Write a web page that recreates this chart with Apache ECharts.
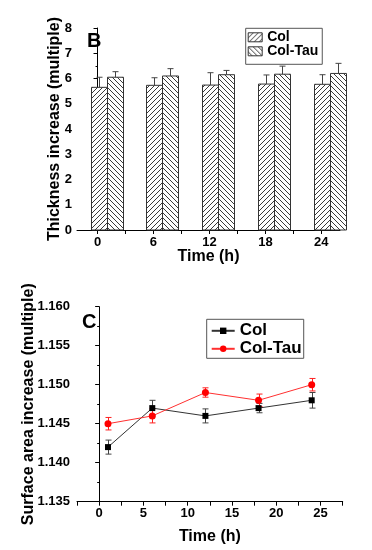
<!DOCTYPE html>
<html>
<head>
<meta charset="utf-8">
<script src="https://cdn.jsdelivr.net/npm/echarts@6/dist/echarts.min.js"></script>
<style>
html,body{margin:0;padding:0;background:#fff;}
#c{width:372px;height:550px;}
</style>
</head>
<body>
<div id="c"></div>
<script>
// ---- Panel B: thickness increase (bar chart) ----
const timesB = [0, 6, 12, 18, 24];
const thickCol = [5.65, 5.73, 5.74, 5.78, 5.77];
const thickColErr = [0.40, 0.30, 0.49, 0.36, 0.38];
const thickColTau = [6.05, 6.10, 6.15, 6.17, 6.20];
const thickColTauErr = [0.22, 0.29, 0.17, 0.32, 0.40];
const yTicksB = [0, 1, 2, 3, 4, 5, 6, 7, 8];

// ---- Panel C: surface area increase (line chart) ----
const timesC = [1, 6, 12, 18, 24];
const areaCol = [1.142, 1.147, 1.146, 1.147, 1.148];
const areaColErr = [0.0009, 0.001, 0.0009, 0.0006, 0.001];
const areaColTau = [1.145, 1.146, 1.149, 1.148, 1.150];
const areaColTauErr = [0.0008, 0.0009, 0.0006, 0.0008, 0.0008];
const xLabelsB = [0, 6, 12, 18, 24];
const xTicksB = [0, 3, 6, 9, 12, 15, 18, 21, 24];

const FONT = "'Liberation Sans', Arial, sans-serif";

function makeHatch(dir) {
  const N = 5;
  const c = document.createElement('canvas');
  c.width = N; c.height = N;
  const ctx = c.getContext('2d');
  ctx.fillStyle = '#fff';
  ctx.fillRect(0, 0, N, N);
  ctx.fillStyle = '#3a3a3a';
  for (let i = 0; i < N; i++) {
    const j = dir === '/' ? (N - 1 - i) : i;
    ctx.fillRect(i, j, 1, 1);
  }
  return c;
}
const patCol = { image: makeHatch('/'), repeat: 'repeat' };
const patColTau = { image: makeHatch('\\'), repeat: 'repeat' };

function barRender(off, pat) {
  return function (params, api) {
    const x = api.value(0), y = api.value(1), e = api.value(2);
    const top = api.coord([x, y]);
    const base = api.coord([x, 0]);
    const et = api.coord([x, y + e]);
    const cx = Math.round(top[0] + off) + 0.5;
    return {
      type: 'group',
      children: [
        { type: 'rect', shape: { x: cx - 8, y: top[1], width: 16, height: base[1] - top[1] },
          style: { fill: pat, stroke: '#333', lineWidth: 1 } },
        { type: 'line', shape: { x1: cx, y1: top[1], x2: cx, y2: et[1] },
          style: { stroke: '#444', lineWidth: 1 } },
        { type: 'line', shape: { x1: cx - 3, y1: et[1], x2: cx + 3, y2: et[1] },
          style: { stroke: '#444', lineWidth: 1 } }
      ]
    };
  };
}

function errRender(color) {
  return function (params, api) {
    const x = api.value(0), y = api.value(1), e = api.value(2);
    const hi = api.coord([x, y + e]);
    const lo = api.coord([x, y - e]);
    const cx = Math.round(hi[0]) + 0.5;
    return {
      type: 'group',
      children: [
        { type: 'line', shape: { x1: cx, y1: hi[1], x2: cx, y2: lo[1] }, style: { stroke: color, lineWidth: 1 } },
        { type: 'line', shape: { x1: cx - 3, y1: hi[1], x2: cx + 3, y2: hi[1] }, style: { stroke: color, lineWidth: 1 } },
        { type: 'line', shape: { x1: cx - 3, y1: lo[1], x2: cx + 3, y2: lo[1] }, style: { stroke: color, lineWidth: 1 } }
      ]
    };
  };
}

const rowsB = (vals, errs) => timesB.map((t, i) => [t, vals[i], errs[i]]);
const rowsC = (vals, errs) => timesC.map((t, i) => [t, vals[i], errs[i]]);

const axisLine = { show: true, lineStyle: { color: '#000', width: 1 } };
const labelStyle = { color: '#000', fontFamily: FONT, fontWeight: 'bold', fontSize: 13 };
const nameStyle = { color: '#000', fontFamily: FONT, fontWeight: 'bold', fontSize: 16 };

const chart = echarts.init(document.getElementById('c'), null, { renderer: 'canvas' });
chart.setOption({
  animation: false,
  backgroundColor: '#fff',
  grid: [
    { left: 77, top: 28, width: 263, height: 202 },
    { left: 77, top: 306.7, width: 265.7, height: 195 }
  ],
  xAxis: [
    {
      gridIndex: 0, type: 'value', min: -2.2, max: 26,
      name: 'Time (h)', nameLocation: 'middle', nameGap: 19, nameTextStyle: nameStyle, nameMoveOverlap: false,
      axisLine: axisLine,
      axisTick: { show: true, length: 4, customValues: xTicksB, lineStyle: { color: '#000' } },
      axisLabel: Object.assign({ margin: 6, customValues: xLabelsB }, labelStyle),
      splitLine: { show: false }
    },
    {
      gridIndex: 1, type: 'value', min: -2.5, max: 27.5, interval: 2.5,
      name: 'Time (h)', nameLocation: 'middle', nameGap: 27, nameTextStyle: nameStyle, nameMoveOverlap: false,
      axisLine: axisLine,
      axisTick: { show: true, length: 4, lineStyle: { color: '#000' } },
      axisLabel: Object.assign({ margin: 5, formatter: v => (Math.abs(v % 5) < 1e-9 ? String(v) : '') }, labelStyle),
      splitLine: { show: false }
    }
  ],
  yAxis: [
    {
      gridIndex: 0, type: 'value', min: yTicksB[0], max: yTicksB[yTicksB.length - 1], interval: 1,
      name: 'Thickness increase (multiple)', nameLocation: 'middle', nameGap: 14, nameTextStyle: nameStyle, nameMoveOverlap: false,
      axisLine: axisLine,
      axisTick: { show: true, length: 4, lineStyle: { color: '#000' } },
      minorTick: { show: true, splitNumber: 2, length: 2, lineStyle: { color: '#000' } },
      axisLabel: Object.assign({ margin: 5 }, labelStyle),
      splitLine: { show: false }
    },
    {
      gridIndex: 1, type: 'value', min: 1.135, max: 1.160, interval: 0.005,
      name: 'Surface area increase (multiple)', nameLocation: 'middle', nameGap: 40, nameTextStyle: nameStyle, nameMoveOverlap: false,
      axisLine: axisLine,
      axisTick: { show: true, length: 4, lineStyle: { color: '#000' } },
      minorTick: { show: true, splitNumber: 2, length: 2, lineStyle: { color: '#000' } },
      axisLabel: Object.assign({ margin: 7, formatter: v => v.toFixed(3) }, labelStyle),
      splitLine: { show: false }
    }
  ],
  legend: [
    {
      data: ['Col', 'Col-Tau'],
      orient: 'vertical', left: 245.7, top: 28.3,
      padding: [2, 4, 6, 2], itemGap: 0, itemWidth: 14, itemHeight: 9, itemTextGap: 3,
      borderColor: '#555', borderWidth: 1, icon: 'rect',
      textStyle: { color: '#000', fontFamily: FONT, fontWeight: 'bold', fontSize: 14, lineHeight: 12 },
      itemStyle: { borderColor: '#333', borderWidth: 1 }
    },
    {
      data: ['Col ', 'Col-Tau '],
      formatter: n => n.trim(),
      orient: 'vertical', left: 206.7, top: 319.3,
      padding: [3, 2, 1, 4], itemGap: 1, itemWidth: 23, itemHeight: 8, itemTextGap: 3,
      borderColor: '#555', borderWidth: 1,
      textStyle: { color: '#000', fontFamily: FONT, fontWeight: 'bold', fontSize: 17, lineHeight: 17 }
    }
  ],
  graphic: [
    { type: 'text', left: 87, top: 31, style: { text: 'B', font: "bold 20px 'Liberation Sans', Arial, sans-serif", fill: '#000' } },
    { type: 'text', left: 82, top: 312, style: { text: 'C', font: "bold 20px 'Liberation Sans', Arial, sans-serif", fill: '#000' } }
  ],
  series: [
    {
      name: 'Col', type: 'custom', xAxisIndex: 0, yAxisIndex: 0,
      itemStyle: { color: patCol, borderColor: '#333', borderWidth: 1 },
      renderItem: barRender(1, patCol),
      encode: { x: 0, y: 1 },
      data: rowsB(thickCol, thickColErr)
    },
    {
      name: 'Col-Tau', type: 'custom', xAxisIndex: 0, yAxisIndex: 0,
      itemStyle: { color: patColTau, borderColor: '#333', borderWidth: 1 },
      renderItem: barRender(17, patColTau),
      encode: { x: 0, y: 1 },
      data: rowsB(thickColTau, thickColTauErr)
    },
    {
      name: 'errCol', type: 'custom', xAxisIndex: 1, yAxisIndex: 1, z: 1,
      renderItem: errRender('#444'), encode: { x: 0, y: 1 },
      data: rowsC(areaCol, areaColErr)
    },
    {
      name: 'errColTau', type: 'custom', xAxisIndex: 1, yAxisIndex: 1, z: 1,
      renderItem: errRender('#ff2020'), encode: { x: 0, y: 1 },
      data: rowsC(areaColTau, areaColTauErr)
    },
    {
      name: 'Col ', type: 'line', xAxisIndex: 1, yAxisIndex: 1, z: 3,
      symbol: 'rect', symbolSize: 6,
      itemStyle: { color: '#000' },
      lineStyle: { color: '#333', width: 1 },
      data: timesC.map((t, i) => [t, areaCol[i]])
    },
    {
      name: 'Col-Tau ', type: 'line', xAxisIndex: 1, yAxisIndex: 1, z: 3,
      symbol: 'circle', symbolSize: 7,
      itemStyle: { color: '#ff0000' },
      lineStyle: { color: '#ff3030', width: 1 },
      data: timesC.map((t, i) => [t, areaColTau[i]])
    }
  ]
});
</script>
</body>
</html>
